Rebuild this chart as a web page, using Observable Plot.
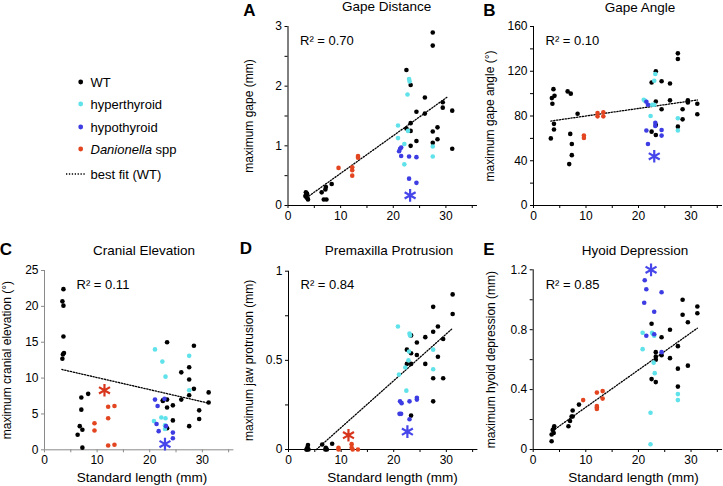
<!DOCTYPE html>
<html><head><meta charset="utf-8">
<script src="https://cdn.jsdelivr.net/npm/d3@7"></script>
<script src="https://cdn.jsdelivr.net/npm/@observablehq/plot@0.6"></script>
<style>
body{margin:0;background:#fff;font-family:"Liberation Sans",Arial,Helvetica,sans-serif;}
#chart{position:relative;width:723px;height:486px;overflow:hidden;background:#fff;}
.abs{position:absolute;white-space:nowrap;color:#000;line-height:1;}
.c{transform:translate(-50%,-50%);}
.letter{font-weight:bold;font-size:17px;}
.title{font-size:13.5px;}
.xlab{font-size:13.5px;}
.leg{font-size:13px;transform:translateY(-50%);}
</style></head><body><div id="chart"></div>
<script>
// ---------- data (Standard length mm, value) ----------
const gapeWT = [[3.4,0.22],[3.6,0.19],[3.3,0.16],[3.5,0.14],[3.7,0.12],[3.8,0.1],[3.6,0.2],[6.4,0.22],[6.8,0.1],[7.3,0.1],[7.1,0.27],[7.2,0.31],[8.3,0.36],[22.5,2.27],[23.3,2.02],[23.3,1.38],[23.3,1.25],[23.3,1.0],[22.5,1.29],[24.4,1.57],[24.4,1.08],[26,1.81],[26,1.54],[27.5,2.9],[27.5,2.68],[27.5,1.24],[27.5,1.05],[28.4,1.31],[28.4,1.11],[29.4,1.73],[29.4,1.64],[31.2,1.59],[31.2,0.95]];
const gapeHyper = [[23.0,2.12],[23.1,2.08],[22.7,1.86],[20.9,1.34],[20.9,1.13],[22.1,1.03],[22.1,0.69],[22.8,1.25],[27.5,0.99],[27.5,0.82]];
const gapeHypo = [[21.3,0.95],[21.1,0.91],[21.5,0.97],[21.5,0.83],[23.0,0.82],[24.4,0.81],[23.0,0.45],[24.4,0.38]];
const gapeHypoStar = [[23.2,0.17]];
const gapeDan = [[9.6,0.63],[12.2,0.64],[12.2,0.59],[12.2,0.5],[13.3,0.83],[13.3,0.8]];
const gapeDanStar = [];
const gapeFit = [[4.0,0.16],[30.3,1.82]];

const angleWT = [[3.3,60],[3.5,96],[3.6,91],[3.8,104],[4.0,98],[3.9,73],[3.9,68],[6.5,102],[7.1,100],[7.0,64],[7.3,55],[7.3,45],[6.8,37],[8.4,82],[22.5,110],[22.5,66],[23.3,120],[23.3,93],[23.3,72],[23.3,63],[24.4,111],[24.4,86],[26,109],[26,94],[27.5,136],[27.5,131],[27.5,70.5],[28.4,86],[28.4,77],[29.4,94],[29.4,92],[31.2,91],[31.2,81.5]];
const angleHyper = [[21.0,94.5],[21.2,93.7],[22.3,80],[23.2,117.5],[23.0,111.5],[22.6,90],[23.0,90],[27.5,78],[27.5,67]];
const angleHypo = [[21.5,92.8],[21.8,90],[21.5,67],[21.8,55],[23.2,74],[23.2,71],[24.4,67.5],[24.4,62.5]];
const angleHypoStar = [[23.0,44]];
const angleDan = [[9.6,62.5],[9.6,60.4],[12.2,82.7],[12.2,79.7],[13.3,83.3],[13.3,79.7]];
const angleDanStar = [];
const angleFit = [[3.3,75.5],[31.2,94.3]];

const cranialWT = [[3.6,22.4],[3.4,20.7],[3.6,20.1],[3.6,15.8],[3.7,13.5],[3.5,13.3],[3.4,12.7],[7.0,7.3],[7.0,5.6],[6.7,3.3],[7.2,2.8],[6.3,2.1],[7.2,0.3],[8.3,7.8],[23.3,15.0],[22.5,6.9],[22.5,6.8],[23.3,7.0],[23.3,5.9],[24.4,6.2],[24.4,4.1],[23.3,3.0],[26,10.8],[26,7.0],[27.5,11.5],[27.5,9.8],[27.5,7.6],[27.5,3.3],[28.4,14.5],[28.4,8.5],[29.4,5.5],[29.4,4.3],[31.2,8.0],[31.2,6.6]];
const cranialHyper = [[20.8,4.0],[21.0,14.0],[22.4,12.3],[23.0,10.2],[22.2,4.5],[23.0,4.4],[22.9,3.4],[22.9,2.9],[27.5,13.1],[27.5,8.3]];
const cranialHypo = [[21.0,7.0],[21.3,3.6],[21.5,6.1],[21.7,2.6],[22.8,7.1],[23.1,3.3],[24.4,2.4],[24.4,1.6]];
const cranialHypoStar = [[22.9,0.8]];
const cranialDan = [[9.5,3.7],[9.5,2.7],[12.1,6.0],[12.1,4.4],[12.1,0.6],[13.3,6.1],[13.3,0.7]];
const cranialDanStar = [[11.4,8.3]];
const cranialFit = [[3.3,11.2],[31.2,6.5]];

const protWT = [[3.5,0.0],[3.6,0.013],[3.7,0.025],[3.4,0.0],[3.8,0.0],[6.4,0.028],[7.0,0.0],[7.3,0.0],[7.1,0.01],[8.3,0.032],[22.5,0.56],[22.5,0.48],[23.3,0.64],[23.3,0.54],[23.3,0.48],[23.3,0.19],[24.4,0.6],[24.4,0.53],[26,0.63],[26,0.48],[27.5,0.8],[27.5,0.66],[27.5,0.4],[27.5,0.27],[28.4,0.69],[28.4,0.52],[29.4,0.62],[29.4,0.4],[31.2,0.87],[31.2,0.76]];
const protHyper = [[20.8,0.69],[21.0,0.42],[22.2,0.46],[22.4,0.33],[22.8,0.5],[22.9,0.55],[23.0,0.65],[23.1,0.64],[27.5,0.56],[27.5,0.45]];
const protHypo = [[21.2,0.27],[21.5,0.26],[21.1,0.2],[21.4,0.2],[23.0,0.27],[23.0,0.17],[24.4,0.29],[24.4,0.28]];
const protHypoStar = [[22.6,0.1]];
const protDan = [[9.5,0.01],[9.5,0.0],[12.0,0.03],[12.0,0.01],[12.2,0.0],[13.2,0.0]];
const protDanStar = [[11.4,0.08]];
const protFit = [[5.3,0.0],[31.2,0.68]];

const hyoidWT = [[3.5,0.055],[3.5,0.1],[3.9,0.11],[3.9,0.14],[4.0,0.155],[3.7,0.13],[6.7,0.155],[7.0,0.19],[7.3,0.22],[7.5,0.26],[7.5,0.22],[8.7,0.3],[22.5,0.84],[22.5,0.47],[23.3,0.65],[23.3,0.62],[23.3,0.6],[23.3,0.45],[24.4,0.75],[24.4,0.63],[26,0.8],[26,0.61],[27.5,0.69],[27.5,0.54],[27.5,0.42],[28.4,1.0],[28.4,0.9],[29.4,0.85],[29.4,0.56],[31.2,0.955],[31.2,0.91]];
const hyoidHyper = [[20.8,0.78],[20.8,0.67],[22.6,0.78],[22.8,0.77],[23.0,0.76],[22.9,0.58],[23.1,0.51],[22.3,0.245],[22.3,0.035],[27.5,0.37],[27.5,0.33]];
const hyoidHypo = [[21.2,1.13],[21.5,1.07],[21.1,0.98],[21.5,0.76],[23.0,0.92],[23.0,0.77],[24.4,1.05],[24.4,0.65]];
const hyoidHypoStar = [[22.4,1.2]];
const hyoidDan = [[9.5,0.33],[12.1,0.38],[12.1,0.29],[12.1,0.28],[12.1,0.27],[13.2,0.39],[13.2,0.34]];
const hyoidDanStar = [];
const hyoidFit = [[3.7,0.125],[31.2,0.81]];

// ---------- ticks and labels ----------
const xTicks = [0,5,10,15,20,25,30,35];
const xTickLabels = [0,10,20,30];
const gapeTicks = [0,0.5,1,1.5,2,2.5,3];           const gapeTickLabels = [0,1,2,3];
const angleTicks = [0,20,40,60,80,100,120,140,160]; const angleTickLabels = [0,40,80,120,160];
const cranialTicks = [0,5,10,15,20,25];             const cranialTickLabels = [0,5,10,15,20,25];
const protTicks = [0,0.25,0.5,0.75,1];              const protTickLabels = [0,0.5,1];
const hyoidTicks = [0,0.2,0.4,0.6,0.8,1,1.2];       const hyoidTickLabels = [0,0.4,0.8,1.2];

const panelLetters = ["A","B","C","D","E"];
const panelTitles = ["Gape Distance","Gape Angle","Cranial Elevation","Premaxilla Protrusion","Hyoid Depression"];
const yTitles = ["maximum gape (mm)","maximum gape angle (°)","maximum cranial elevation (°)","maximum jaw protrusion (mm)","maximum hyoid depression (mm)"];
const r2Labels = ["R² = 0.70","R² = 0.10","R² = 0.11","R² = 0.84","R² = 0.85"];
const xTitle = "Standard length (mm)";
const legendLabels = ["WT","hyperthyroid","hypothyroid","Danionella spp","best fit (WT)"];

// ---------- styles ----------
const FONT = '"Liberation Sans", Arial, Helvetica, sans-serif';
const COL = {wt:"#000000", hyper:"#5fe2ea", hypo:"#3d3de3", dan:"#e2451f"};
const STAR = {hypo:"#4646ea", dan:"#d8361c"};

const panels = [
  {wt:gapeWT, hyper:gapeHyper, hypo:gapeHypo, hs:gapeHypoStar, dan:gapeDan, ds:gapeDanStar, fit:gapeFit, yd:[0,3], yt:gapeTicks, yl:gapeTickLabels,
   left:240, top:0, w:240, h:240, ml:47.5, mr:3, mt:26, mb:35, lo:44, r2dx:12, r2dy:14, axis:"#000", xlab:false,
   letter:[249.5,10], title:[386.7,7]},
  {wt:angleWT, hyper:angleHyper, hypo:angleHypo, hs:angleHypoStar, dan:angleDan, ds:angleDanStar, fit:angleFit, yd:[0,160], yt:angleTicks, yl:angleTickLabels,
   left:480, top:0, w:243, h:240, ml:53, mr:1, mt:26, mb:35, lo:48, r2dx:12, r2dy:14, axis:"#000", xlab:false,
   letter:[489.5,10], title:[640,7.5]},
  {wt:cranialWT, hyper:cranialHyper, hypo:cranialHypo, hs:cranialHypoStar, dan:cranialDan, ds:cranialDanStar, fit:cranialFit, yd:[0,25], yt:cranialTicks, yl:cranialTickLabels,
   left:0, top:240, w:240, h:246, ml:44, mr:6.6, mt:30, mb:36.7, lo:42, r2dx:32, r2dy:14, axis:"#8a8a8a", xlab:[142,478],
   letter:[6,248.5], title:[144,250.5]},
  {wt:protWT, hyper:protHyper, hypo:protHypo, hs:protHypoStar, dan:protDan, ds:protDanStar, fit:protFit, yd:[0,1], yt:protTicks, yl:protTickLabels,
   left:240, top:240, w:240, h:246, ml:48, mr:2.6, mt:30.7, mb:37, lo:44, r2dx:12, r2dy:13.3, axis:"#000", xlab:[392.5,478],
   letter:[246,248], title:[389,250.5]},
  {wt:hyoidWT, hyper:hyoidHyper, hypo:hyoidHypo, hs:hyoidHypoStar, dan:hyoidDan, ds:hyoidDanStar, fit:hyoidFit, yd:[0,1.2], yt:hyoidTicks, yl:hyoidTickLabels,
   left:480, top:240, w:243, h:246, ml:52.7, mr:0.9, mt:29.3, mb:37, lo:47, r2dx:12.5, r2dy:15, axis:"#000", xlab:[633.5,478],
   letter:[489,249], title:[635,250.5]}
];

const chart = document.getElementById("chart");
const X = d => d[0], Y = d => d[1];

function addText(txt, cls, x, y, html) {
  const el = document.createElement("div");
  el.className = "abs " + cls;
  el.style.left = x + "px"; el.style.top = y + "px";
  if (html) el.innerHTML = txt; else el.textContent = txt;
  chart.appendChild(el);
  return el;
}

panels.forEach((p, i) => {
  const svg = Plot.plot({
    width: p.w, height: p.h,
    marginLeft: p.ml, marginRight: p.mr, marginTop: p.mt, marginBottom: p.mb,
    style: {background: "transparent", fontFamily: FONT, fontSize: "12px", color: "#000", overflow: "visible"},
    x: {domain: [0, 36]},
    y: {domain: p.yd},
    marks: [
      Plot.axisX({ticks: xTicks, tickFormat: d => xTickLabels.includes(d) ? String(d) : "", tickSize: 3, tickPadding: 3, stroke: p.axis, fill: "#000", fontSize: 12, label: null}),
      Plot.axisY({ticks: p.yt, tickFormat: d => p.yl.includes(d) ? String(d) : "", tickSize: 3, tickPadding: 3, stroke: p.axis, fill: "#000", fontSize: 12,
                  label: yTitles[i], labelAnchor: "center", labelOffset: p.lo, labelArrow: "none"}),
      Plot.ruleX([0], {stroke: p.axis}),
      Plot.ruleY([0], {stroke: p.axis}),
      Plot.line(p.fit, {x: X, y: Y, stroke: "#000", strokeWidth: 1.3, strokeDasharray: "1.3,1.6"}),
      Plot.dot(p.wt, {x: X, y: Y, r: 2.3, fill: COL.wt}),
      Plot.dot(p.hyper, {x: X, y: Y, r: 2.3, fill: COL.hyper}),
      Plot.dot(p.hypo, {x: X, y: Y, r: 2.3, fill: COL.hypo}),
      Plot.dot(p.dan, {x: X, y: Y, r: 2.3, fill: COL.dan}),
      Plot.dot(p.hs, {x: X, y: Y, r: 6, symbol: "asterisk", stroke: STAR.hypo, strokeWidth: 2.2}),
      Plot.dot(p.ds, {x: X, y: Y, r: 6, symbol: "asterisk", stroke: STAR.dan, strokeWidth: 2.2}),
      Plot.text([r2Labels[i]], {text: d => d, frameAnchor: "top-left", dx: p.r2dx, dy: p.r2dy, textAnchor: "start", lineAnchor: "middle", fontSize: 13, fill: "#000"})
    ]
  });
  const wrap = document.createElement("div");
  wrap.style.position = "absolute";
  wrap.style.left = p.left + "px"; wrap.style.top = p.top + "px";
  wrap.appendChild(svg);
  chart.appendChild(wrap);
  addText(panelLetters[i], "letter c", p.letter[0], p.letter[1]);
  addText(panelTitles[i], "title c", p.title[0], p.title[1]);
  if (p.xlab) addText(xTitle, "xlab c", p.xlab[0], p.xlab[1]);
});

// ---------- legend ----------
const legendColors = [COL.wt, COL.hyper, COL.hypo, COL.dan, null];
const legendY = [82, 104.4, 126.8, 149.2, 173.5];
legendLabels.forEach((lab, i) => {
  const y = legendY[i];
  const html = lab.startsWith("Danionella") ? "<i>Danionella</i>" + lab.slice("Danionella".length) : lab;
  addText(html, "leg", 90.5, y, true);
  const s = d3.select(chart).append("svg")
    .style("position", "absolute").style("left", "60px").style("top", (y - 5) + "px")
    .attr("width", 30).attr("height", 10);
  if (legendColors[i]) {
    s.append("circle").attr("cx", 20.7).attr("cy", 5).attr("r", 2.4).attr("fill", legendColors[i]);
  } else {
    s.append("line").attr("x1", 6).attr("x2", 25).attr("y1", 5).attr("y2", 5)
      .attr("stroke", "#000").attr("stroke-width", 1.3).attr("stroke-dasharray", "1.3,1.6");
  }
});
</script></body></html>
